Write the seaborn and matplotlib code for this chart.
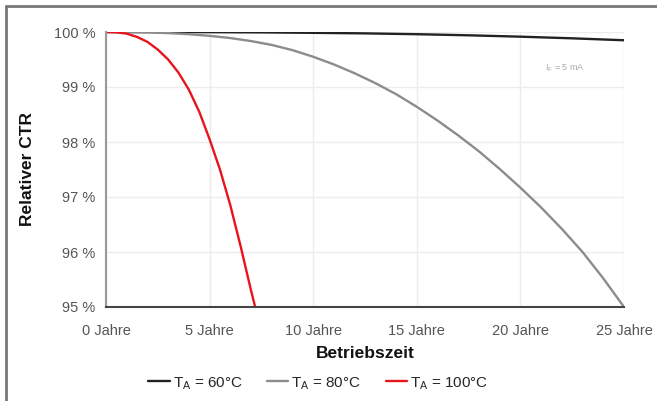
import numpy as np
import pandas as pd
import matplotlib.pyplot as plt
import seaborn as sns
from matplotlib.lines import Line2D

# data (years, relative CTR in %)
years_60 = [0, 2.5, 5, 7.5, 10, 12.5, 15, 17.5, 20, 22.5, 25]
ctr_60 = [100, 99.999, 99.997, 99.993, 99.985, 99.975, 99.96, 99.94, 99.915, 99.885, 99.85]

years_80 = list(range(0, 26))
ctr_80 = [100, 99.998, 99.992, 99.98, 99.96, 99.93, 99.89, 99.835, 99.765, 99.67, 99.55,
          99.41, 99.25, 99.07, 98.87, 98.64, 98.39, 98.12, 97.83, 97.51, 97.17,
          96.81, 96.42, 96.0, 95.52, 95.0]

years_100 = [0, 0.5, 1, 1.5, 2, 2.5, 3, 3.5, 4, 4.5, 5, 5.5, 6, 6.5, 7, 7.2]
ctr_100 = [100, 99.995, 99.97, 99.91, 99.82, 99.68, 99.5, 99.26, 98.95, 98.55,
           98.05, 97.5, 96.85, 96.1, 95.3, 95.0]

labels = ['T$_\\mathregular{A}$ = 60°C', 'T$_\\mathregular{A}$ = 80°C', 'T$_\\mathregular{A}$ = 100°C']
colors = ['#222222', '#8c8c8c', '#e8141c']

xticks = [0, 5, 10, 15, 20, 25]
yticks = [95, 96, 97, 98, 99, 100]

df = pd.concat([
    pd.DataFrame({'Jahre': years_60, 'CTR': ctr_60, 'Serie': labels[0]}),
    pd.DataFrame({'Jahre': years_80, 'CTR': ctr_80, 'Serie': labels[1]}),
    pd.DataFrame({'Jahre': years_100, 'CTR': ctr_100, 'Serie': labels[2]}),
])

sns.set_style('white')
plt.rcParams['font.family'] = ['Liberation Sans Narrow', 'Liberation Sans', 'DejaVu Sans']
plt.rcParams['mathtext.fontset'] = 'custom'
plt.rcParams['mathtext.rm'] = 'Liberation Sans'

fig = plt.figure(figsize=(6.57, 4.01), dpi=100)
ax = fig.add_axes([106 / 657, 1 - 307 / 401, 518 / 657, 275 / 401])

sns.lineplot(data=df, x='Jahre', y='CTR', hue='Serie', palette=colors, linewidth=1.7,
             sort=False, ax=ax, legend=True)

ax.set_xlim(0, 25)
ax.set_ylim(95, 100)
ax.set_xticks(xticks)
ax.set_xticklabels([f'{t} Jahre' for t in xticks])
ax.set_yticks(yticks)
ax.set_yticklabels([f'{t} %' for t in yticks])
ax.tick_params(axis='both', labelsize=10.5, labelcolor='#555555', colors='#555555',
               length=4, width=1, direction='out')
ax.tick_params(axis='x', pad=8)
ax.grid(True, color='#ececec', linewidth=1)
ax.set_axisbelow(True)
for s in ['top', 'right']:
    ax.spines[s].set_visible(False)
ax.spines['left'].set_color('#999999')
ax.spines['left'].set_linewidth(1.5)
ax.spines['bottom'].set_color('#444444')
ax.spines['bottom'].set_linewidth(1.5)

ax.set_xlabel('Betriebszeit', fontsize=12.5, fontweight='bold', color='#111111', labelpad=6)
ax.set_ylabel('Relativer CTR', fontsize=12.5, fontweight='bold', color='#111111', labelpad=14)

ax.text(22.15, 99.35, 'I$_\\mathregular{F}$ = 5 mA', fontsize=6.5, color='#aaaaaa', ha='center', va='center')

ax.legend(loc='center', bbox_to_anchor=(0.41, -0.277), ncol=3, frameon=False,
          handlelength=1.4, handletextpad=0.2, columnspacing=1.6, fontsize=11,
          title=None)

# figure frame (left and top)
fig.add_artist(Line2D([6 / 657, 6 / 657], [0, 1 - 6 / 401], color='#777777', linewidth=2))
fig.add_artist(Line2D([6 / 657, 1], [1 - 6 / 401, 1 - 6 / 401], color='#777777', linewidth=2))

fig.savefig('out.png', dpi=100)
